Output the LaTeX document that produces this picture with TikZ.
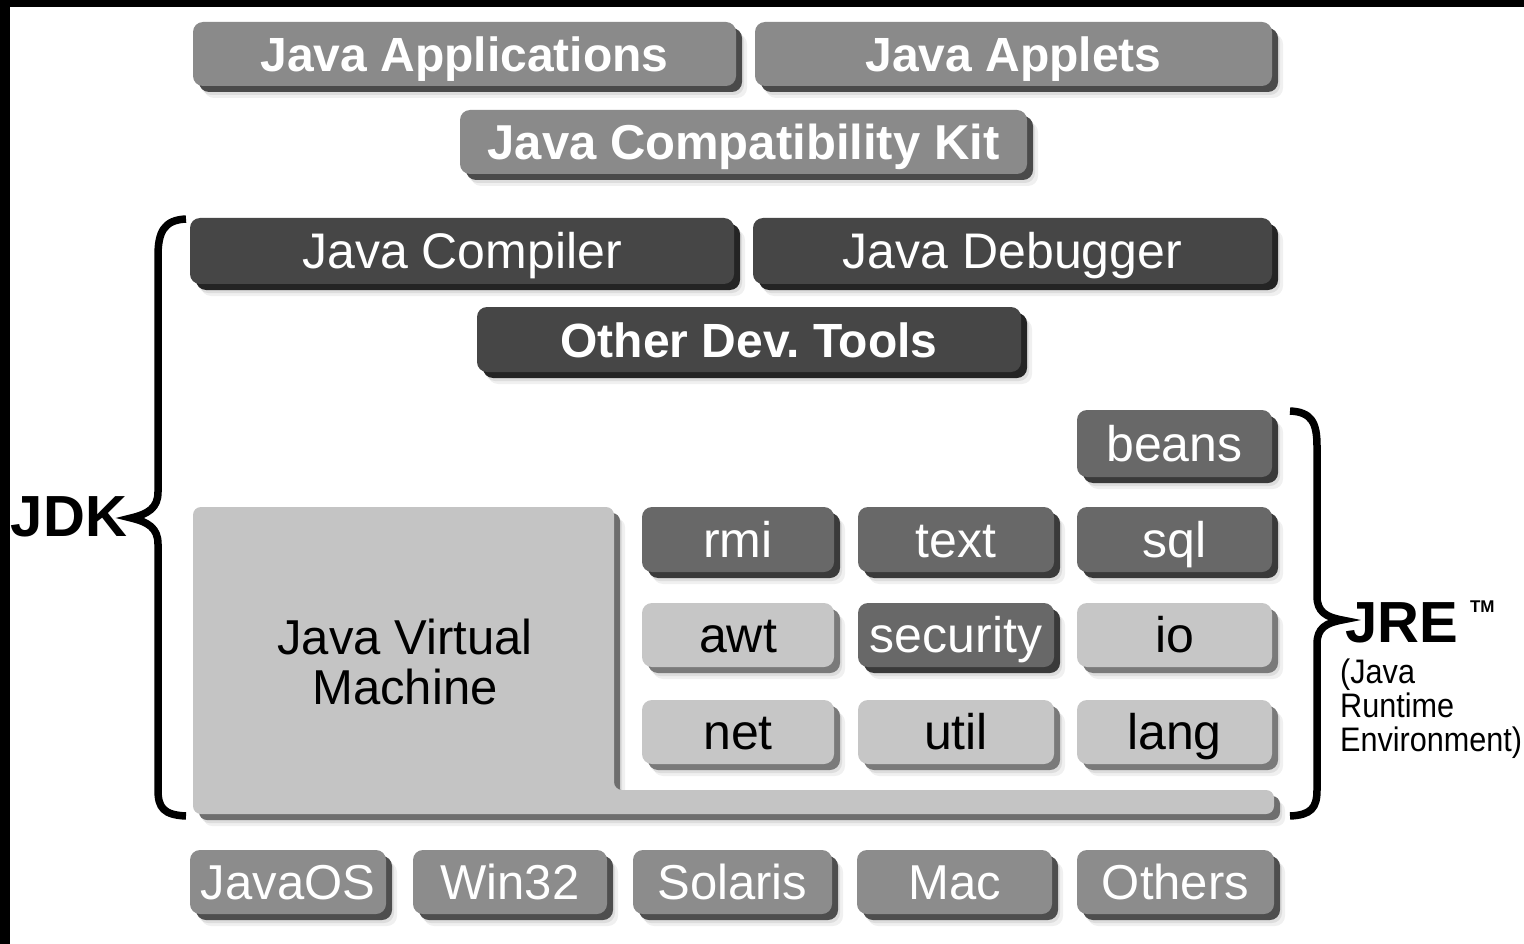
\documentclass[tikz,border=0pt]{standalone}
\usepackage{fontspec}
\setmainfont{Liberation Sans}
\newfontfamily\narrowfont[FakeStretch=0.9]{Liberation Sans}
\usetikzlibrary{shadows}

\definecolor{topface}{HTML}{8A8A8A}
\definecolor{topedge}{HTML}{4A4A4A}
\definecolor{devface}{HTML}{464646}
\definecolor{devedge}{HTML}{242424}
\definecolor{pkgdark}{HTML}{686868}
\definecolor{pkgdarkedge}{HTML}{3A3A3A}
\definecolor{pkglight}{HTML}{C6C6C6}
\definecolor{pkglightedge}{HTML}{7A7A7A}
\definecolor{osface}{HTML}{8C8C8C}
\definecolor{osedge}{HTML}{4E4E4E}
\definecolor{jvmface}{HTML}{C4C4C4}
\definecolor{jvmedge}{HTML}{6E6E6E}

\newcommand\fsz[1]{\fontsize{#1}{#1}\selectfont}

\tikzset{
  halo/.style={general shadow={fill=black, opacity=0.06, shadow xshift=11pt, shadow yshift=-12pt},
               general shadow={fill=black, opacity=0.08, shadow xshift=8pt, shadow yshift=-9pt}},
  rim/.style={general shadow={fill=#1, shadow xshift=6pt, shadow yshift=-6pt}},
  btn/.style={rounded corners=10pt, inner sep=0pt, outer sep=0pt, text height=35pt, text depth=0pt, halo},
  topbtn/.style={btn, rim=topedge, fill=topface, text=white, font=\bfseries\fsz{48}},
  devbtn/.style={btn, rim=devedge, fill=devface, text=white, font=\fsz{50}},
  devboldbtn/.style={btn, rim=devedge, fill=devface, text=white, font=\bfseries\fsz{48}},
  pkgd/.style={btn, rim=pkgdarkedge, fill=pkgdark, text=white, font=\fsz{50}},
  pkgl/.style={btn, rim=pkglightedge, fill=pkglight, text=black, font=\fsz{50}},
  osbtn/.style={btn, rim=osedge, fill=osface, text=white, font=\fsz{49}},
  brace/.style={line width=7.5pt, black},
  biglabel/.style={inner sep=0pt, font=\bfseries\fsz{58}},
}

\begin{document}
\begin{tikzpicture}[x=1pt, y=-1pt]
\useasboundingbox (0,0) rectangle (1524,944);
\fill[white] (0,0) rectangle (1524,944);
\fill[black] (0,0) rectangle (1524,7);
\fill[black] (0,0) rectangle (10,944);

% top row
\node[topbtn, minimum width=543pt, minimum height=64pt] (apps) at (464.5,54) {Java Applications};
\node[topbtn, minimum width=517pt, minimum height=64pt] (applets) at (1013.5,54) {Java Applets};
\node[topbtn, minimum width=567pt, minimum height=64pt, font=\bfseries\fsz{49}] (jck) at (743.5,142) {Java Compatibility Kit};

% development tools
\node[devbtn, minimum width=544pt, minimum height=66pt] (compiler) at (462,251) {Java Compiler};
\node[devbtn, minimum width=519pt, minimum height=66pt] (debugger) at (1012.5,251) {Java Debugger};
\node[devboldbtn, minimum width=544pt, minimum height=65pt] (otherdev) at (749,339.5) {Other Dev.\ Tools};

% JVM platform
\path[fill=jvmface, rounded corners=8pt, halo, rim=jvmedge]
  (193,507) -- (614,507) -- (614,790) -- (1274,790) -- (1274,814) -- (193,814) -- cycle;
\node[inner sep=0pt, align=center, font=\fontsize{49}{50}\selectfont, text=black] (jvm) at (405,662)
  {Java Virtual\\Machine};

% packages
\node[pkgd, minimum width=195pt, minimum height=67pt] (beans) at (1174.5,443.5) {beans};
\node[pkgd, minimum width=192pt, minimum height=65pt] (rmi) at (738,539.5) {rmi};
\node[pkgd, minimum width=196pt, minimum height=65pt] (text) at (956,539.5) {text};
\node[pkgd, minimum width=195pt, minimum height=65pt] (sql) at (1174.5,539.5) {sql};
\node[pkgl, minimum width=192pt, minimum height=64pt] (awt) at (738,635) {awt};
\node[pkgd, minimum width=196pt, minimum height=64pt] (security) at (956,635) {security};
\node[pkgl, minimum width=195pt, minimum height=64pt] (io) at (1174.5,635) {io};
\node[pkgl, minimum width=192pt, minimum height=64pt] (net) at (738,732) {net};
\node[pkgl, minimum width=196pt, minimum height=64pt] (util) at (956,732) {util};
\node[pkgl, minimum width=195pt, minimum height=64pt] (lang) at (1174.5,732) {lang};

% operating systems
\node[osbtn, minimum width=196pt, minimum height=64pt] (javaos) at (288,882) {JavaOS};
\node[osbtn, minimum width=194pt, minimum height=64pt] (win32) at (510,882) {Win32};
\node[osbtn, minimum width=199pt, minimum height=64pt] (solaris) at (732.5,882) {Solaris};
\node[osbtn, minimum width=195pt, minimum height=64pt] (mac) at (954.5,882) {Mac};
\node[osbtn, minimum width=197pt, minimum height=64pt] (others) at (1175.5,882) {Others};

% JDK brace
\draw[brace] (186,219) .. controls (164,220) and (158,232) .. (158,256)
  -- (158,492) .. controls (158,508) and (148,514) .. (131,518)
  .. controls (148,522) and (158,528) .. (158,544)
  -- (158,790) .. controls (158,808) and (164,815) .. (186,816);
\node[biglabel, anchor=base] (jdk) at (69,536) {JDK};

% JRE brace
\draw[brace] (1290,411) .. controls (1311,412) and (1317,422) .. (1317,446)
  -- (1317,596) .. controls (1317,612) and (1326,617) .. (1342,620)
  .. controls (1326,623) and (1317,628) .. (1317,644)
  -- (1317,790) .. controls (1317,808) and (1311,815) .. (1290,816);
\node[biglabel, anchor=base west] (jre) at (1345,642)
  {JRE\hspace{12pt}{\fsz{17}\raisebox{30pt}{TM}}};
\node[inner sep=0pt, anchor=north west, align=left, text=black, font=\narrowfont\fontsize{34}{34}\selectfont] (jrefull) at (1340,659)
  {(Java\\Runtime\\Environment)};
\end{tikzpicture}
\end{document}
